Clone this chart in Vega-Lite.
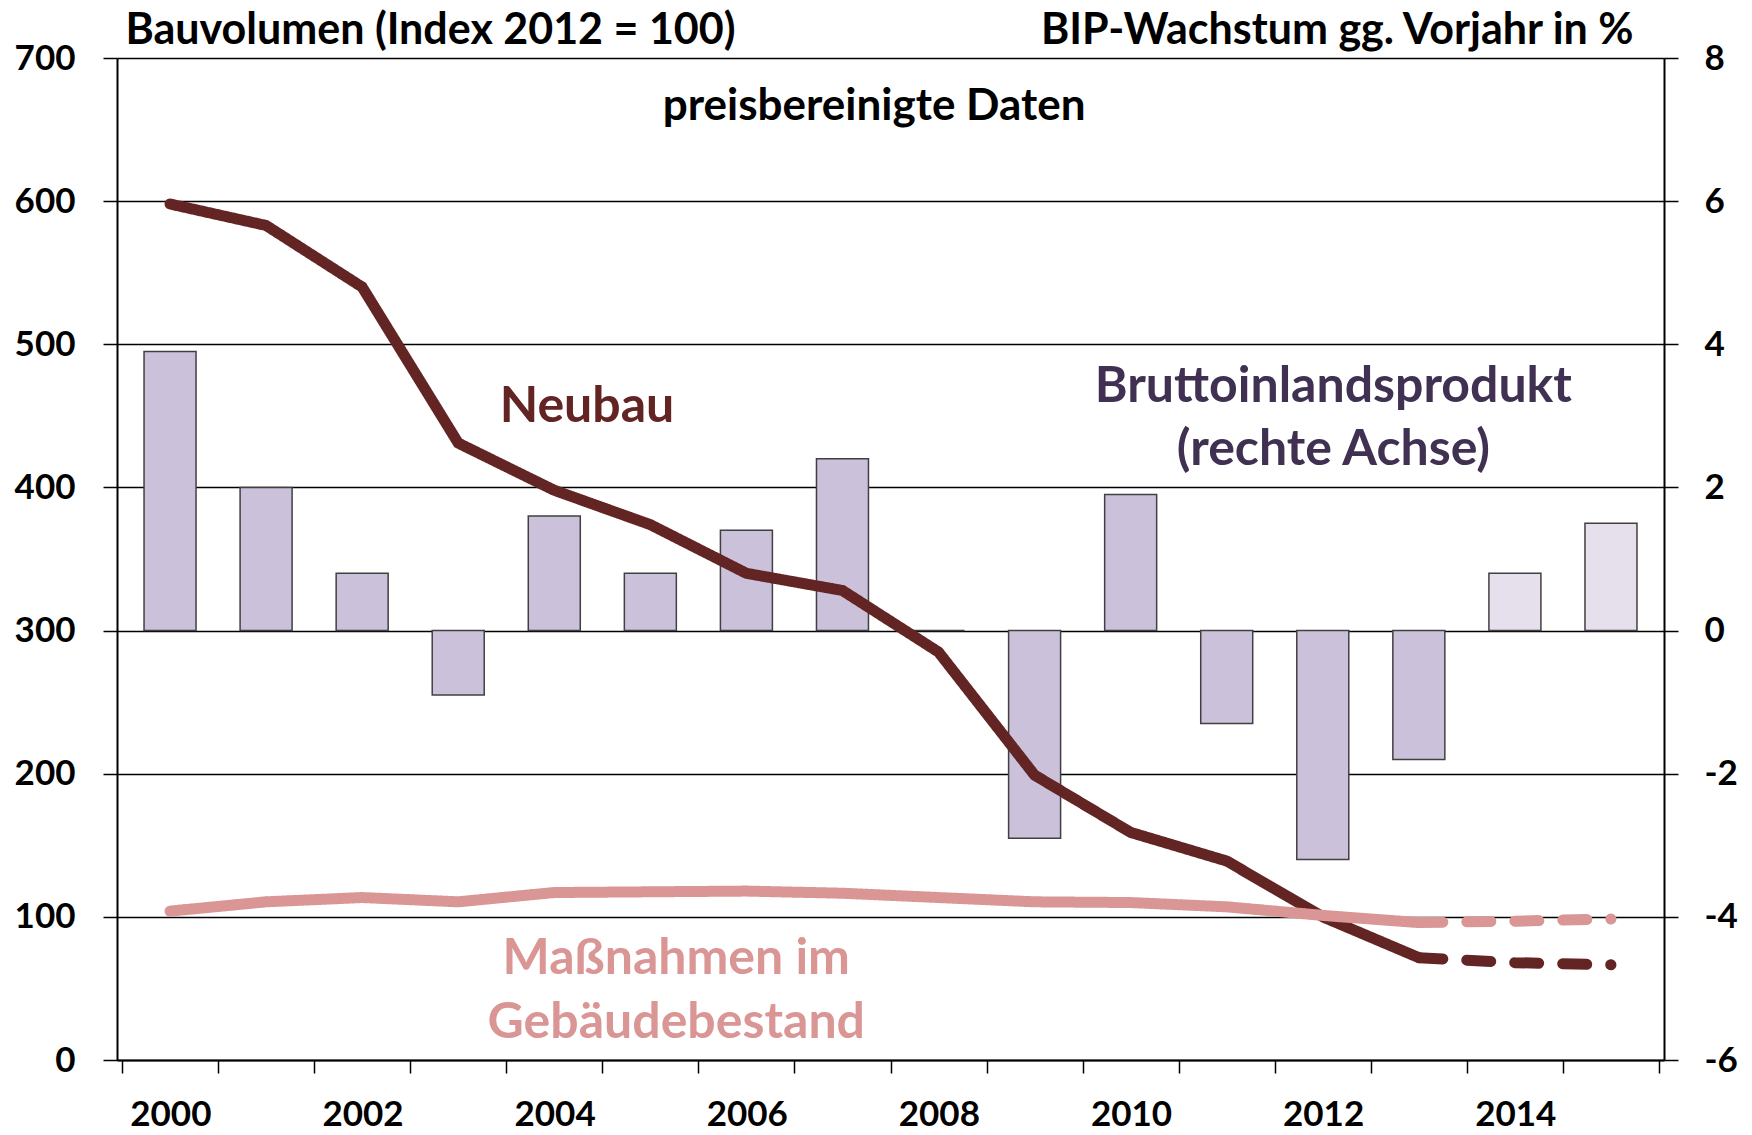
{
  "$schema": "https://vega.github.io/schema/vega-lite/v6.json",
  "width": 1547,
  "height": 1002,
  "autosize": {"type": "none"},
  "padding": {"left": 117, "top": 58, "right": 88, "bottom": 75},
  "background": "white",
  "config": {
    "view": {"stroke": null},
    "font": "Lato",
    "axis": {
      "labelFont": "Lato", "labelFontWeight": "bold", "labelFontSize": 35, "labelColor": "black",
      "titleFont": "Lato", "titleFontWeight": "bold", "titleFontSize": 43, "titleColor": "black",
      "domainColor": "black", "domainWidth": 2, "tickColor": "black", "tickWidth": 1.5, "tickSize": 14
    }
  },
  "datasets": {
    "bip": [
      {"year": 2000, "bip": 3.9, "status": "ist"},
      {"year": 2001, "bip": 2.0, "status": "ist"},
      {"year": 2002, "bip": 0.8, "status": "ist"},
      {"year": 2003, "bip": -0.9, "status": "ist"},
      {"year": 2004, "bip": 1.6, "status": "ist"},
      {"year": 2005, "bip": 0.8, "status": "ist"},
      {"year": 2006, "bip": 1.4, "status": "ist"},
      {"year": 2007, "bip": 2.4, "status": "ist"},
      {"year": 2008, "bip": 0.0, "status": "ist"},
      {"year": 2009, "bip": -2.9, "status": "ist"},
      {"year": 2010, "bip": 1.9, "status": "ist"},
      {"year": 2011, "bip": -1.3, "status": "ist"},
      {"year": 2012, "bip": -3.2, "status": "ist"},
      {"year": 2013, "bip": -1.8, "status": "ist"},
      {"year": 2014, "bip": 0.8, "status": "prognose"},
      {"year": 2015, "bip": 1.5, "status": "prognose"}
    ],
    "neubau": [
      {"year": 2000, "value": 598, "seg": "ist"},
      {"year": 2001, "value": 583, "seg": "ist"},
      {"year": 2002, "value": 540, "seg": "ist"},
      {"year": 2003, "value": 431, "seg": "ist"},
      {"year": 2004, "value": 398, "seg": "ist"},
      {"year": 2005, "value": 374, "seg": "ist"},
      {"year": 2006, "value": 340, "seg": "ist"},
      {"year": 2007, "value": 328, "seg": "ist"},
      {"year": 2008, "value": 285, "seg": "ist"},
      {"year": 2009, "value": 199, "seg": "ist"},
      {"year": 2010, "value": 159, "seg": "ist"},
      {"year": 2011, "value": 139, "seg": "ist"},
      {"year": 2012, "value": 100, "seg": "ist"},
      {"year": 2013, "value": 71.5, "seg": "ist"},
      {"year": 2013, "value": 71.5, "seg": "prognose"},
      {"year": 2014, "value": 68, "seg": "prognose"},
      {"year": 2015, "value": 66.5, "seg": "prognose"}
    ],
    "massnahmen": [
      {"year": 2000, "value": 104, "seg": "ist"},
      {"year": 2001, "value": 110.5, "seg": "ist"},
      {"year": 2002, "value": 113.5, "seg": "ist"},
      {"year": 2003, "value": 110.5, "seg": "ist"},
      {"year": 2004, "value": 117, "seg": "ist"},
      {"year": 2005, "value": 117.5, "seg": "ist"},
      {"year": 2006, "value": 118, "seg": "ist"},
      {"year": 2007, "value": 116.5, "seg": "ist"},
      {"year": 2008, "value": 113.5, "seg": "ist"},
      {"year": 2009, "value": 110.5, "seg": "ist"},
      {"year": 2010, "value": 110, "seg": "ist"},
      {"year": 2011, "value": 107, "seg": "ist"},
      {"year": 2012, "value": 101, "seg": "ist"},
      {"year": 2013, "value": 96, "seg": "ist"},
      {"year": 2013, "value": 96, "seg": "prognose"},
      {"year": 2014, "value": 97, "seg": "prognose"},
      {"year": 2015, "value": 98.5, "seg": "prognose"}
    ]
  },
  "layer": [
    {
      "data": {"name": "bip"},
      "mark": {"type": "bar", "width": 52, "stroke": "#404040", "strokeWidth": 1.5},
      "encoding": {
        "x": {
          "field": "year", "type": "quantitative",
          "scale": {"domain": [1999.5, 2015.5], "nice": false, "zero": false},
          "axis": {
            "title": null,
            "values": [1999.5, 2000.5, 2001.5, 2002.5, 2003.5, 2004.5, 2005.5, 2006.5, 2007.5, 2008.5, 2009.5, 2010.5, 2011.5, 2012.5, 2013.5, 2014.5, 2015.5],
            "grid": false,
            "tickSize": 13,
            "labelOffset": 48.35,
            "labelPadding": 24,
            "labelFlush": false,
            "labelOverlap": false,
            "labelBound": false,
            "labelExpr": "datum.value < 2015 && (datum.value + 0.5) % 2 == 0 ? '' + (datum.value + 0.5) : ''"
          }
        },
        "y": {
          "field": "bip", "type": "quantitative",
          "scale": {"domain": [-6, 8], "nice": false, "zero": false},
          "axis": {
            "orient": "right",
            "title": "BIP-Wachstum gg. Vorjahr in %",
            "titleAngle": 0, "titleX": -31, "titleY": -15, "titleAlign": "right", "titleBaseline": "alphabetic",
            "values": [-6, -4, -2, 0, 2, 4, 6, 8],
            "grid": false,
            "labelPadding": 26,
            "labelExpr": "'' + datum.value"
          }
        },
        "color": {
          "field": "status", "type": "nominal",
          "scale": {"domain": ["ist", "prognose"], "range": ["#CCC1DA", "#E5E0EC"]},
          "legend": null
        }
      }
    },
    {
      "layer": [
        {
          "data": {"name": "neubau"},
          "mark": {"type": "line", "color": "#632523", "strokeWidth": 11, "strokeCap": "round"},
          "encoding": {
            "x": {"field": "year", "type": "quantitative"},
            "y": {
              "field": "value", "type": "quantitative",
              "scale": {"domain": [0, 700], "nice": false},
              "axis": {
                "orient": "left",
                "title": "Bauvolumen (Index 2012 = 100)",
                "titleAngle": 0, "titleX": 8, "titleY": -15, "titleAlign": "left", "titleBaseline": "alphabetic",
                "values": [0, 100, 200, 300, 400, 500, 600, 700],
                "grid": true, "gridColor": "black", "gridWidth": 1.5, "gridOpacity": 1,
                "labelPadding": 28
              }
            },
            "strokeDash": {
              "field": "seg", "type": "nominal",
              "scale": {"domain": ["ist", "prognose"], "range": [[1, 0], [24, 24]]},
              "legend": null
            }
          }
        },
        {
          "data": {"name": "massnahmen"},
          "mark": {"type": "line", "color": "#D99694", "strokeWidth": 11, "strokeCap": "round"},
          "encoding": {
            "x": {"field": "year", "type": "quantitative"},
            "y": {"field": "value", "type": "quantitative"},
            "strokeDash": {
              "field": "seg", "type": "nominal",
              "scale": {"domain": ["ist", "prognose"], "range": [[1, 0], [24, 24]]},
              "legend": null
            }
          }
        },
        {
          "data": {"values": [{"year": 2007.33, "value": 656.6, "label": "preisbereinigte Daten"}]},
          "mark": {"type": "text", "font": "Lato", "fontWeight": "bold", "fontSize": 44, "color": "black", "align": "center", "baseline": "alphabetic"},
          "encoding": {
            "x": {"field": "year", "type": "quantitative"},
            "y": {"field": "value", "type": "quantitative"},
            "text": {"field": "label"}
          }
        },
        {
          "data": {"values": [{"year": 2004.34, "value": 446, "label": "Neubau"}]},
          "mark": {"type": "text", "font": "Lato", "fontWeight": "bold", "fontSize": 50, "color": "#632523", "align": "center", "baseline": "alphabetic"},
          "encoding": {
            "x": {"field": "year", "type": "quantitative"},
            "y": {"field": "value", "type": "quantitative"},
            "text": {"field": "label"}
          }
        },
        {
          "data": {"values": [{"year": 2012.11, "value": 459.4, "label": "Bruttoinlandsprodukt\n(rechte Achse)"}]},
          "mark": {"type": "text", "font": "Lato", "fontWeight": "bold", "fontSize": 50, "color": "#403152", "align": "center", "baseline": "alphabetic", "lineBreak": "\n", "lineHeight": 63},
          "encoding": {
            "x": {"field": "year", "type": "quantitative"},
            "y": {"field": "value", "type": "quantitative"},
            "text": {"field": "label"}
          }
        },
        {
          "data": {"values": [{"year": 2005.27, "value": 60.1, "label": "Maßnahmen im\nGebäudebestand"}]},
          "mark": {"type": "text", "font": "Lato", "fontWeight": "bold", "fontSize": 50, "color": "#D99694", "align": "center", "baseline": "alphabetic", "lineBreak": "\n", "lineHeight": 64},
          "encoding": {
            "x": {"field": "year", "type": "quantitative"},
            "y": {"field": "value", "type": "quantitative"},
            "text": {"field": "label"}
          }
        }
      ]
    }
  ],
  "resolve": {"scale": {"y": "independent"}}
}
